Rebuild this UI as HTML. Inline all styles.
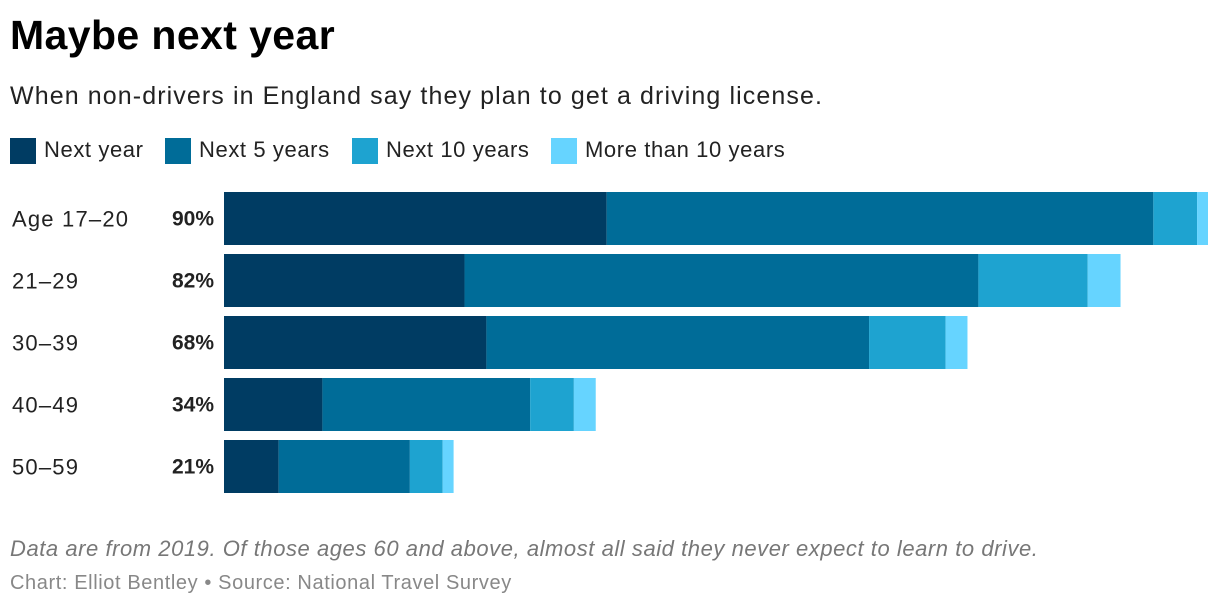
<!DOCTYPE html>
<html><head><meta charset="utf-8"><style>
body{margin:0;width:1220px;height:610px;background:#fff;font-family:"Liberation Sans",sans-serif;position:relative;overflow:hidden}
.t{position:absolute;white-space:nowrap}
.sw{position:absolute;width:26px;height:26px;top:138px}
.lg{letter-spacing:0.6px}
</style></head><body>
<div class="t" style="left:10px;top:12px;font-size:41px;font-weight:bold;color:#000;letter-spacing:0.4px">Maybe next year</div>
<div class="t" style="left:10px;top:82px;font-size:25px;color:#222;letter-spacing:1.1px">When non-drivers in England say they plan to get a driving license.</div>
<div>
<div class="sw" style="left:10px;background:#003c63"></div>
<div class="t lg" style="left:44px;top:137px;font-size:22px;color:#222">Next year</div>
<div class="sw" style="left:165px;background:#006c98"></div>
<div class="t lg" style="left:199px;top:137px;font-size:22px;color:#222">Next 5 years</div>
<div class="sw" style="left:352px;background:#1ea3d0"></div>
<div class="t lg" style="left:386px;top:137px;font-size:22px;color:#222">Next 10 years</div>
<div class="sw" style="left:551px;background:#66d4ff"></div>
<div class="t lg" style="left:585px;top:137px;font-size:22px;color:#222">More than 10 years</div>
</div>
<svg id="chart" width="1220" height="610" style="position:absolute;left:0;top:0"></svg>
<div class="t" style="left:10px;top:536px;font-size:22px;font-style:italic;color:#777;letter-spacing:0.55px">Data are from 2019. Of those ages 60 and above, almost all said they never expect to learn to drive.</div>
<div class="t" style="left:10px;top:572px;font-size:20px;color:#888;letter-spacing:0.6px">Chart: Elliot Bentley • Source: National Travel Survey</div>
<script>
const categories=["Age 17–20","21–29","30–39","40–49","50–59"];
const nextYear=[35,22,24,9,5];
const next5=[50,47,35,19,12];
const next10=[4,10,7,4,3];
const more10=[1,3,2,2,1];
const totalLabels=["90%","82%","68%","34%","21%"];
const seriesNames=["next-year","next-5-years","next-10-years","more-than-10-years"];
const colors=["#003c63","#006c98","#1ea3d0","#66d4ff"];
const svg=document.getElementById('chart');
const NS="http://www.w3.org/2000/svg";
const x0=224,pxPer=984/90;
const x=v=>x0+v*pxPer;
const y=i=>192+i*62;
const bh=53;
const series=[nextYear,next5,next10,more10];
categories.forEach((c,i)=>{
  let acc=0;
  series.forEach((s,k)=>{
    const r=document.createElementNS(NS,'rect');
    r.setAttribute('x',x(acc));r.setAttribute('y',y(i));
    r.setAttribute('width',x(acc+s[i])-x(acc));r.setAttribute('height',bh);
    r.setAttribute('fill',colors[k]);
    
    
    svg.appendChild(r);acc+=s[i];
  });
  const t=document.createElementNS(NS,'text');
  t.setAttribute('x',12);t.setAttribute('y',y(i)+bh/2+8);
  t.setAttribute('font-size','22');t.setAttribute('fill','#222');
  t.setAttribute('letter-spacing','1.2');
  t.textContent=c;
  
  
  svg.appendChild(t);
  const v=document.createElementNS(NS,'text');
  v.setAttribute('x',214);v.setAttribute('y',y(i)+bh/2+7);
  v.setAttribute('text-anchor','end');v.setAttribute('font-weight','bold');
  v.setAttribute('font-size','21');v.setAttribute('fill','#222');
  v.textContent=totalLabels[i];
  
  
  svg.appendChild(v);
});
</script>
</body></html>
